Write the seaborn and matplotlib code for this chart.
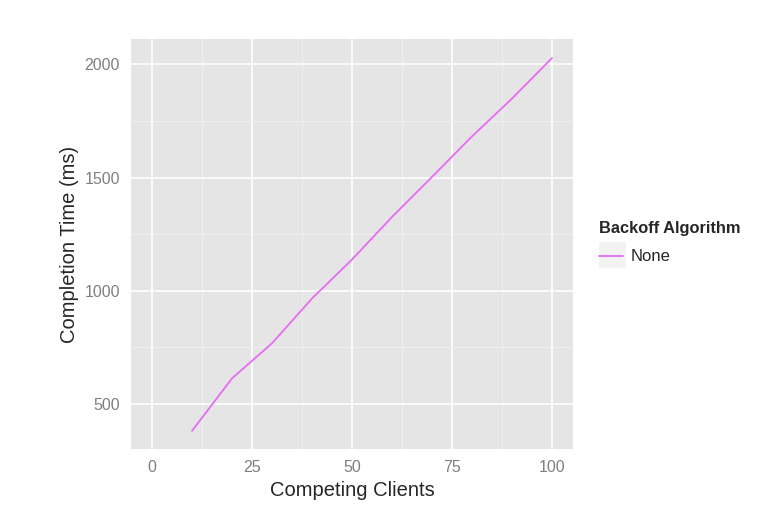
import pandas as pd
import numpy as np
import matplotlib
matplotlib.use('Agg')
import matplotlib.pyplot as plt
import seaborn as sns
from matplotlib.patches import Rectangle

# Data
clients = [10, 20, 30, 40, 50, 60, 70, 80, 90, 100]
completion_ms = [381, 613, 768, 966, 1138, 1326, 1503, 1682, 1849, 2028]
algorithm = ['None'] * len(clients)

x_ticks = [0, 25, 50, 75, 100]
y_ticks = [500, 1000, 1500, 2000]

df = pd.DataFrame({
    'Competing Clients': clients,
    'Completion Time (ms)': completion_ms,
    'Backoff Algorithm': algorithm,
})

sns.set_style('darkgrid', {'axes.facecolor': '#E5E5E5', 'grid.color': 'white'})
plt.rcParams['font.family'] = ['Liberation Sans', 'DejaVu Sans']

fig = plt.figure(figsize=(7.77, 5.16), dpi=100)
ax = fig.add_axes([0.1686, 0.1298, 0.5689, 0.7946])

sns.lineplot(data=df, x='Competing Clients', y='Completion Time (ms)',
             hue='Backoff Algorithm', palette={'None': '#E76BF3'},
             linewidth=1.3, ax=ax)

ax.set_xlim(-5.25, 105.25)
ax.set_ylim(301, 2112)
ax.set_xticks(x_ticks)
ax.set_yticks(y_ticks)
ax.set_xticks([12.5, 37.5, 62.5, 87.5], minor=True)
ax.set_yticks([750, 1250, 1750], minor=True)
ax.grid(True, which='major', color='white', linewidth=1.2)
ax.grid(True, which='minor', color='#F2F2F2', linewidth=0.6)
for s in ax.spines.values():
    s.set_visible(False)

ax.tick_params(axis='both', which='major', length=5, width=1, color='#7F7F7F',
               labelcolor='#7F7F7F', labelsize=11.5, pad=3)
ax.tick_params(axis='both', which='minor', length=0)
ax.set_xlabel('Competing Clients', fontsize=14.5, labelpad=4)
ax.set_ylabel('Completion Time (ms)', fontsize=14.5, labelpad=4)

# Legend on the right, ggplot style
leg = ax.legend(loc='upper left', bbox_to_anchor=(599 / 777, 1 - 221 / 516),
                bbox_transform=fig.transFigure, frameon=False,
                fontsize=12, title='Backoff Algorithm', title_fontsize=11.8,
                handlelength=1.45, handletextpad=0.42, borderpad=0,
                labelspacing=0.8, borderaxespad=0)
leg.get_title().set_fontweight('bold')
leg._legend_box.align = 'left'
ax.add_patch(Rectangle((598 / 777, 1 - 268 / 516), 28 / 777, 27 / 516,
                       transform=fig.transFigure, facecolor='#F2F2F2',
                       edgecolor='white', clip_on=False, zorder=4))

fig.savefig('out.png', dpi=100)
